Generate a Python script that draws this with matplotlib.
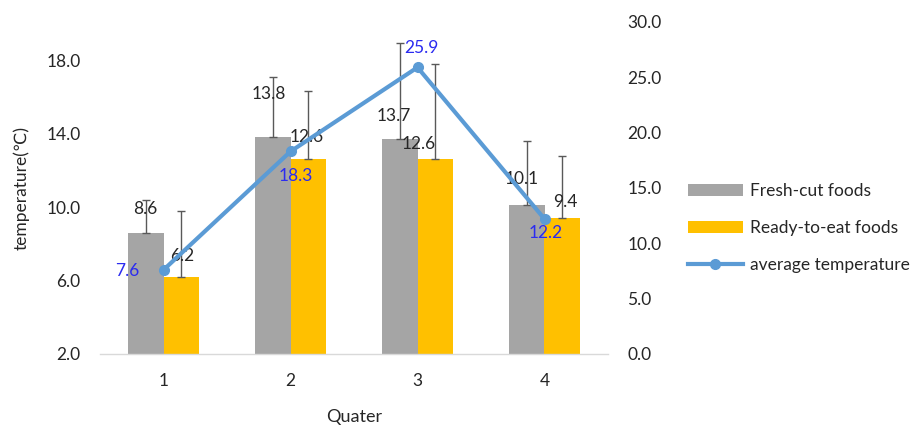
import matplotlib
matplotlib.use("Agg")
import matplotlib.pyplot as plt
import numpy as np

plt.rcParams['font.family'] = ['Lato', 'DejaVu Sans']

quarters = ['1', '2', '3', '4']
fresh_cut = [8.6, 13.8, 13.7, 10.1]
ready_to_eat = [6.2, 12.6, 12.6, 9.4]
fresh_err = [1.8, 3.3, 5.2, 3.5]
ready_err = [3.6, 3.7, 5.2, 3.4]
avg_temp = [7.6, 18.3, 25.9, 12.2]
left_ticks = [2.0, 6.0, 10.0, 14.0, 18.0]
right_ticks = [0.0, 5.0, 10.0, 15.0, 20.0, 25.0, 30.0]

# label offsets in pixels (dx, dy)
fresh_lab_off = [(0, 24), (-4, 43), (-6, 23), (-5, 26)]
ready_lab_off = [(1, 21), (-2, 22), (-17, 15), (3, 16)]
avg_lab_off = [(-36, -1), (5, -25), (4, 19), (1, -14)]

FS = 12.5

fig = plt.figure(figsize=(9.2, 4.28), dpi=100)
ax = fig.add_axes([100/920, 1-354/428, 508/920, 332/428])
ax2 = ax.twinx()

x = np.arange(1, len(quarters) + 1)
w = 0.28
gray = '#A5A5A5'
yellow = '#FFC000'
blue = '#5B9BD5'

ax.bar(x - w/2, fresh_cut, w, color=gray, zorder=2, label='Fresh-cut foods')
ax.bar(x + w/2, ready_to_eat, w, color=yellow, zorder=2, label='Ready-to-eat foods')
ax.errorbar(x - w/2, fresh_cut, yerr=[[0]*4, fresh_err], fmt='none', ecolor='#595959',
            elinewidth=1, capsize=2.8, capthick=1, zorder=3)
ax.errorbar(x + w/2, ready_to_eat, yerr=[[0]*4, ready_err], fmt='none', ecolor='#595959',
            elinewidth=1, capsize=2.8, capthick=1, zorder=3)

ax.set_ylim(2, 20.07)
ax.set_xlim(0.5, 4.5)
ax.set_yticks(left_ticks)
ax.set_yticklabels([f'{t:.1f}' for t in left_ticks])
ax.set_xticks(x)
ax.set_xticklabels(quarters)

for xi, v, (dx, dy) in zip(x - w/2, fresh_cut, fresh_lab_off):
    ax.annotate(f'{v:.1f}', (xi, v), xytext=(dx*0.72, dy*0.72), textcoords='offset points',
                ha='center', va='center', fontsize=FS, color='#262626', zorder=5)
for xi, v, (dx, dy) in zip(x + w/2, ready_to_eat, ready_lab_off):
    ax.annotate(f'{v:.1f}', (xi, v), xytext=(dx*0.72, dy*0.72), textcoords='offset points',
                ha='center', va='center', fontsize=FS, color='#262626', zorder=5)

ax2.plot(x, avg_temp, color=blue, lw=3, marker='o', ms=7, zorder=4, label='average temperature')
ax2.set_ylim(0, 30)
ax2.set_yticks(right_ticks)
ax2.set_yticklabels([f'{t:.1f}' for t in right_ticks])
for xi, v, (dx, dy) in zip(x, avg_temp, avg_lab_off):
    ax2.annotate(f'{v:.1f}', (xi, v), xytext=(dx*0.72, dy*0.72), textcoords='offset points',
                 ha='center', va='center', fontsize=FS, color='#2B2BF0', zorder=6)

for a in (ax, ax2):
    for s in a.spines.values():
        s.set_visible(False)
    a.tick_params(length=0, labelsize=FS, colors='#262626')
ax.spines['bottom'].set_visible(True)
ax.spines['bottom'].set_color('#D9D9D9')
ax.spines['bottom'].set_linewidth(1)
ax.tick_params(axis='y', pad=14)
ax.tick_params(axis='x', pad=14)
ax2.tick_params(axis='y', pad=14)

ax.set_ylabel('temperature(℃)', fontsize=FS, color='#262626', labelpad=12)
ax.set_xlabel('Quater', fontsize=13, color='#262626', labelpad=14)

h1, l1 = ax.get_legend_handles_labels()
h2, l2 = ax2.get_legend_handles_labels()
fig.legend(h1 + h2, l1 + l2, loc='center left', bbox_to_anchor=(672/920, 1-228/428),
           frameon=False, fontsize=FS, handlelength=3.2, labelspacing=1.2,
           handletextpad=0.4, labelcolor='#262626')

fig.savefig('out.png', dpi=100)
